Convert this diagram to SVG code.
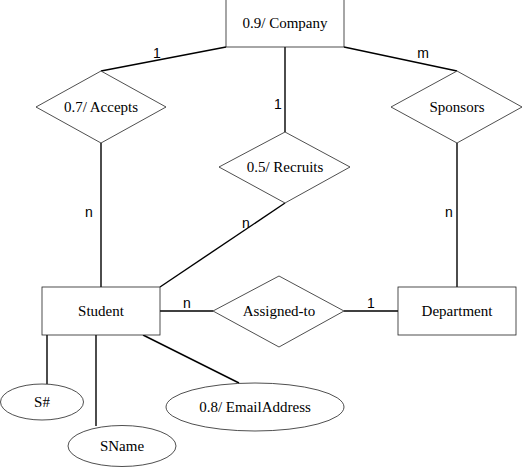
<svg xmlns="http://www.w3.org/2000/svg" width="529" height="475" viewBox="0 0 529 475">
<style>
.shape{fill:#fff;stroke:#222;stroke-width:0.8}
.conn line{stroke:#000;stroke-width:1.4}
.lbl{font-family:"Liberation Serif","Times New Roman",serif;font-size:15px;text-anchor:middle;fill:#000}
.card{font-family:"Liberation Sans",Arial,sans-serif;font-size:14px;text-anchor:middle;fill:#000}
</style>
<rect width="529" height="475" fill="#fff"/>
<g id="connectors" class="conn">
<line x1="226" y1="47" x2="101" y2="71"/>
<line x1="285" y1="47" x2="285" y2="132"/>
<line x1="344" y1="47" x2="457" y2="71"/>
<line x1="101" y1="143" x2="101" y2="287"/>
<line x1="285" y1="203" x2="160" y2="287"/>
<line x1="457" y1="143" x2="457" y2="287"/>
<line x1="160" y1="311" x2="213" y2="311"/>
<line x1="344" y1="311" x2="398" y2="311"/>
<line x1="47" y1="335" x2="47" y2="384"/>
<line x1="96" y1="335" x2="96" y2="426"/>
<line x1="143" y1="335" x2="239" y2="383"/>
</g>
<g id="cardinalities">
<text class="card" x="157" y="58">1</text>
<text class="card" x="278" y="109">1</text>
<text class="card" x="423" y="58">m</text>
<text class="card" x="89" y="217">n</text>
<text class="card" x="246" y="228">n</text>
<text class="card" x="449" y="217">n</text>
<text class="card" x="187" y="308">n</text>
<text class="card" x="371" y="308">1</text>
</g>
<g id="company"><rect class="shape" x="226" y="-1" width="118" height="48"/><text class="lbl" x="285" y="28">0.9/ Company</text></g>
<g id="accepts"><polygon class="shape" points="101,71 166,107 101,143 36,107"/><text class="lbl" x="101" y="112">0.7/ Accepts</text></g>
<g id="recruits"><polygon class="shape" points="285,132 350,167 285,203 219,167"/><text class="lbl" x="285" y="172">0.5/ Recruits</text></g>
<g id="sponsors"><polygon class="shape" points="457,71 522,107 457,143 391,107"/><text class="lbl" x="457" y="112">Sponsors</text></g>
<g id="student"><rect class="shape" x="42" y="287" width="118" height="48"/><text class="lbl" x="101" y="316">Student</text></g>
<g id="assigned-to"><polygon class="shape" points="279,276 344,311 279,347 213,311"/><text class="lbl" x="279" y="316">Assigned-to</text></g>
<g id="department"><rect class="shape" x="398" y="287" width="118" height="48"/><text class="lbl" x="457" y="316">Department</text></g>
<g id="snum"><ellipse class="shape" cx="42" cy="402" rx="41.5" ry="18"/><text class="lbl" x="42" y="407">S#</text></g>
<g id="sname"><ellipse class="shape" cx="122" cy="446" rx="54" ry="20.5"/><text class="lbl" x="122" y="451">SName</text></g>
<g id="email"><ellipse class="shape" cx="255" cy="407" rx="89" ry="24"/><text class="lbl" x="255" y="412">0.8/ EmailAddress</text></g>
</svg>
